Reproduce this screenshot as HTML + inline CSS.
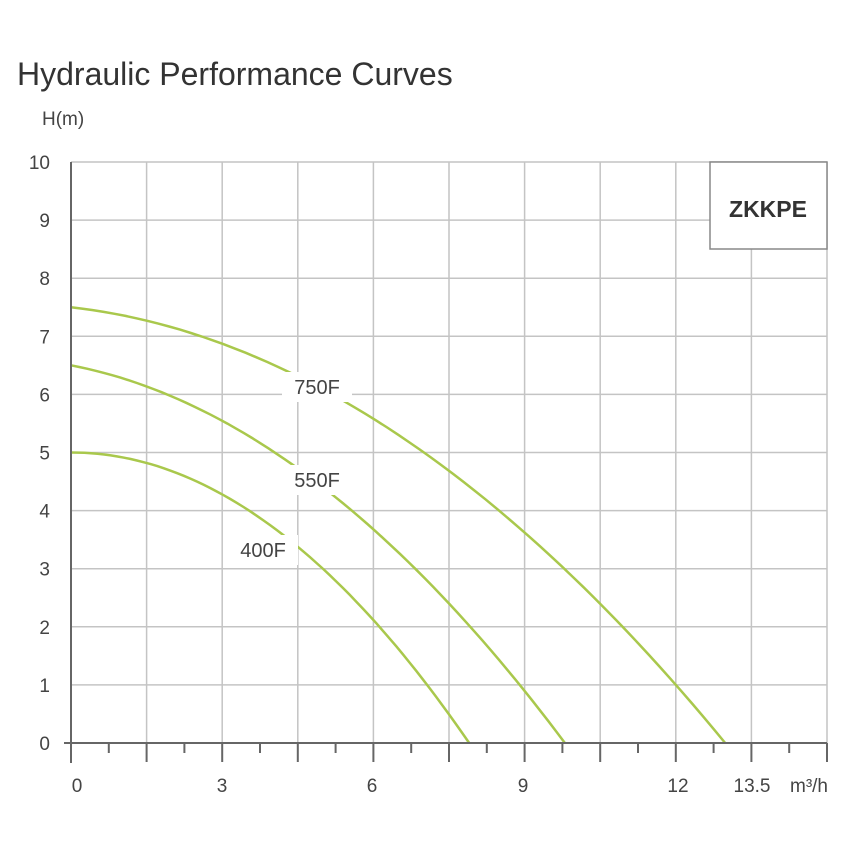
<!DOCTYPE html><html><head><style>body{margin:0;background:#fff}</style></head><body>
<svg id="s" width="854" height="854" xmlns="http://www.w3.org/2000/svg" font-family="Liberation Sans, sans-serif">
<rect width="854" height="854" fill="#fff"/>
<text x="17" y="85" font-size="32" fill="#333">Hydraulic Performance Curves</text>
<text x="42" y="125" font-size="19" fill="#444">H(m)</text>
<g id="grid" stroke="#c4c4c4" stroke-width="1.5"></g>
<g id="curves" fill="none" stroke="#a9c84c" stroke-width="2.5"></g>
<g id="axes" stroke="#666" stroke-width="2"></g>
<g font-size="19" fill="#444" id="lab"></g>
<rect x="710" y="162" width="117" height="87" fill="#fff" stroke="#888" stroke-width="1.5"/>
<text x="768" y="217" font-size="23" font-weight="bold" text-anchor="middle" fill="#333">ZKKPE</text>
<g font-size="20" fill="#444">
<rect x="282" y="372" width="70" height="30" fill="#fff"/><text x="317" y="394" text-anchor="middle">750F</text>
<rect x="282" y="465" width="70" height="30" fill="#fff"/><text x="317" y="487" text-anchor="middle">550F</text>
<rect x="228" y="535" width="70" height="30" fill="#fff"/><text x="263" y="557" text-anchor="middle">400F</text>
</g>
</svg>
<script>
var ns="http://www.w3.org/2000/svg",x0=71,y0=743,dx=75.6,dy=58.1;
function el(p,t,a,txt){var e=document.createElementNS(ns,t);for(var k in a)e.setAttribute(k,a[k]);if(txt)e.textContent=txt;document.getElementById(p).appendChild(e);}
for(var i=1;i<=10;i++){el("grid","line",{x1:x0,x2:827,y1:y0-i*dy,y2:y0-i*dy});el("grid","line",{x1:x0+i*dx,x2:x0+i*dx,y1:162,y2:y0});}
for(var i=0;i<=10;i++)el("lab","text",{x:50,y:y0-i*dy+7,"text-anchor":"end"},""+i);
el("axes","line",{x1:64,x2:827,y1:y0,y2:y0});el("axes","line",{x1:x0,x2:x0,y1:162,y2:763});
for(var i=1;i<=20;i++){var x=x0+i*dx/2;el("axes","line",{x1:x,x2:x,y1:y0,y2:i%2?753:762});}
[["0",77],["3",222],["6",372],["9",523],["12",678],["13.5",752]].forEach(function(a){el("lab","text",{x:a[1],y:792,"text-anchor":"middle"},a[0]);});
el("lab","text",{x:790,y:792},"m³/h");
[[7.5,12.98,0.17],[6.5,9.8,0.25],[5,7.9,0]].forEach(function(c){var d="";for(var k=0;k<=60;k++){var t=k/60,q=c[1]*t,h=c[0]*(1-c[2]*t-(1-c[2])*t*t);d+=(k?"L":"M")+(x0+q/1.5*dx).toFixed(1)+","+(y0-h*dy).toFixed(1);}el("curves","path",{d:d});});
</script>
</body></html>
